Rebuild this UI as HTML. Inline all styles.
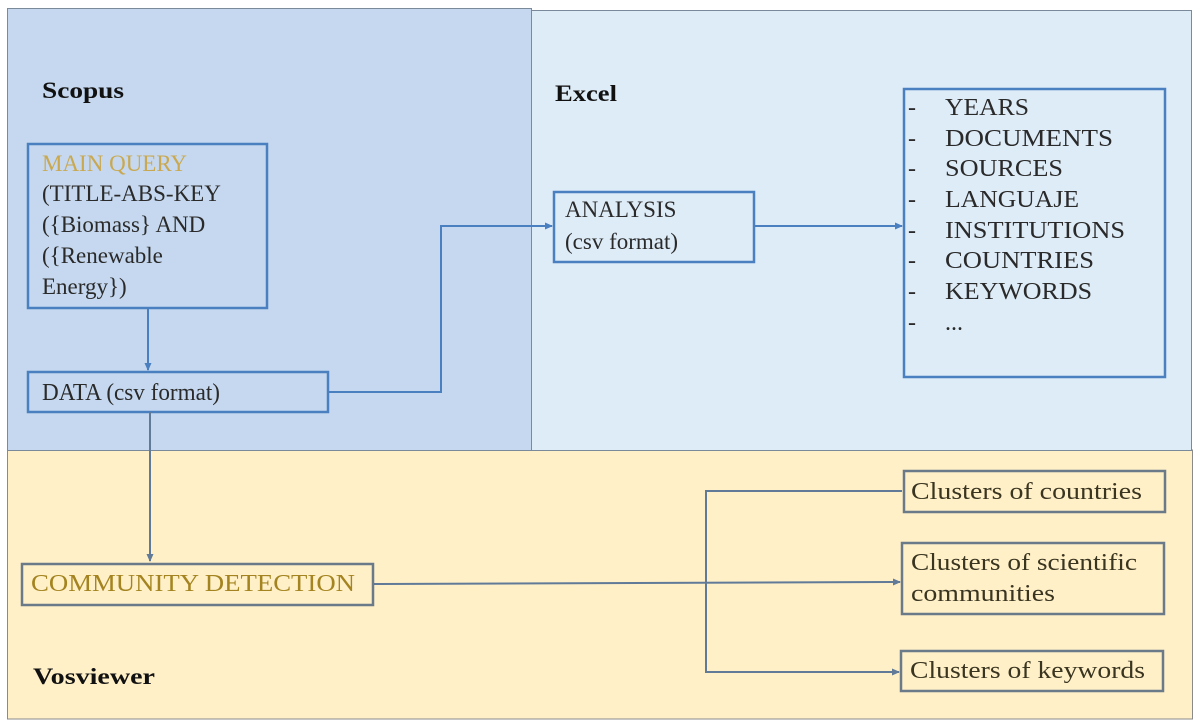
<!DOCTYPE html>
<html><head><meta charset="utf-8"><style>
html,body{margin:0;padding:0;background:#fff;}
svg{display:block;}
text{font-family:"Liberation Serif","DejaVu Serif",serif;font-size:24px;fill:#2a2a2a;}
.s{font-size:23px;}
.b{font-weight:bold;font-size:23px;fill:#111;}
.g{fill:#c9a850;}
.d{fill:#a48420;}
.k{fill:#3a3520;}
</style></head><body>
<svg width="1200" height="727" viewBox="0 0 1200 727" xmlns="http://www.w3.org/2000/svg" font-family="Liberation Serif, serif">
<defs>
<marker id="a" markerWidth="8" markerHeight="8" refX="7" refY="4" orient="auto" markerUnits="userSpaceOnUse"><path d="M0,0.5 L8,4 L0,7.5 z" fill="#4a7fc0"/></marker>
<marker id="a2" markerWidth="8" markerHeight="8" refX="7" refY="4" orient="auto" markerUnits="userSpaceOnUse"><path d="M0,0.5 L8,4 L0,7.5 z" fill="#607a98"/></marker>
</defs>
<rect x="7.5" y="450" width="1185" height="269" fill="#fff0c8" stroke="#8a8a8a" stroke-width="1"/>
<rect x="7.5" y="8.5" width="524" height="442" fill="#c5d8ef" stroke="#7a8a9a" stroke-width="1"/>
<rect x="531.5" y="10.5" width="660" height="440" fill="#deecf8" stroke="#7a8a9a" stroke-width="1"/>
<text class="b" x="42" y="98" textLength="82" lengthAdjust="spacingAndGlyphs">Scopus</text>
<text class="b" x="555" y="101" textLength="62" lengthAdjust="spacingAndGlyphs">Excel</text>
<text class="b" x="33" y="684" textLength="122" lengthAdjust="spacingAndGlyphs">Vosviewer</text>
<g fill="none" stroke="#4a7fc0" stroke-width="2.5">
<rect x="28" y="144" width="239" height="164"/>
<rect x="28" y="372" width="300" height="40"/>
<rect x="554" y="192" width="200" height="70"/>
<rect x="904" y="89" width="261" height="288"/>
</g>
<g fill="none" stroke="#4a7fc0" stroke-width="2">
<line x1="148" y1="308" x2="148" y2="370" marker-end="url(#a)"/>
<polyline points="328,392 441,392 441,226 552,226" marker-end="url(#a)"/>
<line x1="754" y1="226" x2="902" y2="226" marker-end="url(#a)"/>
</g>
<g fill="none" stroke="#607a98" stroke-width="2">
<line x1="150" y1="412" x2="150" y2="561" marker-end="url(#a2)"/>
<line x1="372" y1="584" x2="900" y2="582" marker-end="url(#a2)"/>
<polyline points="902,491 706,491 706,672 899,672" marker-end="url(#a2)"/>
</g>
<g fill="none" stroke="#6a7a88" stroke-width="2.5">
<rect x="22" y="564" width="351" height="41"/>
<rect x="904" y="471" width="261" height="41"/>
<rect x="902" y="543" width="262" height="71"/>
<rect x="901" y="651" width="262" height="40"/>
</g>
<text class="g s" x="42" y="171">MAIN QUERY</text>
<text class="s" x="42" y="201">(TITLE-ABS-KEY</text>
<text class="s" x="42" y="232">({Biomass} AND</text>
<text class="s" x="42" y="263">({Renewable</text>
<text class="s" x="42" y="294">Energy})</text>
<text x="42" y="400" textLength="178" lengthAdjust="spacingAndGlyphs">DATA (csv format)</text>
<text class="s" x="565" y="217">ANALYSIS</text>
<text class="s" x="565" y="249">(csv format)</text>
<g>
<text x="908" y="115">-</text><text x="945" y="115" textLength="84" lengthAdjust="spacingAndGlyphs">YEARS</text>
<text x="908" y="146">-</text><text x="945" y="146" textLength="168" lengthAdjust="spacingAndGlyphs">DOCUMENTS</text>
<text x="908" y="176">-</text><text x="945" y="176" textLength="118" lengthAdjust="spacingAndGlyphs">SOURCES</text>
<text x="908" y="207">-</text><text x="945" y="207" textLength="134" lengthAdjust="spacingAndGlyphs">LANGUAJE</text>
<text x="908" y="238">-</text><text x="945" y="238" textLength="180" lengthAdjust="spacingAndGlyphs">INSTITUTIONS</text>
<text x="908" y="268">-</text><text x="945" y="268" textLength="149" lengthAdjust="spacingAndGlyphs">COUNTRIES</text>
<text x="908" y="299">-</text><text x="945" y="299" textLength="147" lengthAdjust="spacingAndGlyphs">KEYWORDS</text>
<text x="908" y="330">-</text><text x="945" y="330">...</text>
</g>
<text class="d" x="31" y="591" textLength="324" lengthAdjust="spacingAndGlyphs">COMMUNITY DETECTION</text>
<text class="k" x="911" y="499" textLength="231" lengthAdjust="spacingAndGlyphs">Clusters of countries</text>
<text class="k" x="911" y="570" textLength="226" lengthAdjust="spacingAndGlyphs">Clusters of scientific</text>
<text class="k" x="911" y="601" textLength="144" lengthAdjust="spacingAndGlyphs">communities</text>
<text class="k" x="910" y="678" textLength="235" lengthAdjust="spacingAndGlyphs">Clusters of keywords</text>
</svg>
</body></html>
